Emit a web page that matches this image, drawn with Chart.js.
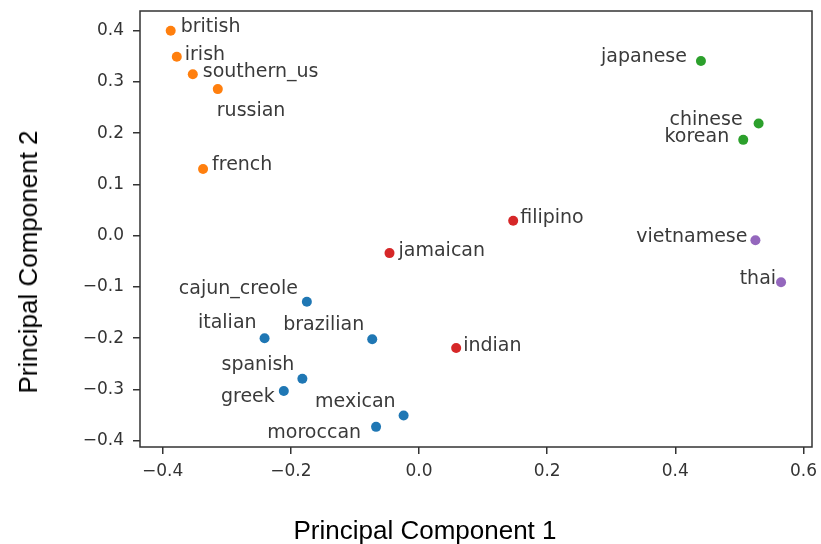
<!DOCTYPE html>
<html>
<head>
<meta charset="utf-8">
<script src="https://cdn.jsdelivr.net/npm/chart.js@4.4.1/dist/chart.umd.min.js"></script>
<style>
  body { margin: 0; background: #fff; }
  #wrap { position: relative; width: 821px; height: 544px; }
  .axis-title { position: absolute; font-family: "Liberation Sans", Arial, sans-serif; font-size: 26px; color: #000; white-space: nowrap; line-height: 1; }
  #xTitle { left: 425px; top: 517px; transform: translateX(-50%); }
  #yTitle { left: 28px; top: 262px; transform: translate(-50%, -50%) rotate(-90deg); }
</style>
</head>
<body>
<div id="wrap">
  <canvas id="chart" width="821" height="544"></canvas>
  <div class="axis-title" id="xTitle">Principal Component 1</div>
  <div class="axis-title" id="yTitle">Principal Component 2</div>
</div>
<script>
// cuisine names, PCA coordinates and cluster id
const cuisines = ["british", "irish", "southern_us", "russian", "french",
  "japanese", "chinese", "korean", "vietnamese", "thai",
  "jamaican", "indian", "filipino",
  "cajun_creole", "italian", "brazilian", "spanish", "greek", "mexican", "moroccan"];
const pc1 = [-0.3875, -0.378, -0.353, -0.314, -0.337,
  0.440, 0.530, 0.506, 0.525, 0.565,
  -0.046, 0.058, 0.147,
  -0.175, -0.241, -0.073, -0.182, -0.211, -0.024, -0.067];
const pc2 = [0.400, 0.349, 0.315, 0.286, 0.130,
  0.341, 0.219, 0.187, -0.009, -0.091,
  -0.034, -0.219, 0.029,
  -0.129, -0.200, -0.202, -0.279, -0.303, -0.351, -0.373];
const cluster = [1, 1, 1, 1, 1, 2, 2, 2, 4, 4, 3, 3, 3, 0, 0, 0, 0, 0, 0, 0];

const xTicks = [-0.4, -0.2, 0.0, 0.2, 0.4, 0.6];
const yTicks = [-0.4, -0.3, -0.2, -0.1, 0.0, 0.1, 0.2, 0.3, 0.4];

const clusterColors = ["#1f77b4", "#ff7f0e", "#2ca02c", "#d62728", "#9467bd"];

// where each name sits next to its dot: [align, dx, dy] in px
const labelPlace = {
  british: ["left", 10, 1], irish: ["left", 8, 3], southern_us: ["left", 10, 3],
  russian: ["left", -1, 27], french: ["left", 9, 1],
  japanese: ["right", -14, 1], chinese: ["right", -16, 2], korean: ["right", -14, 2],
  vietnamese: ["right", -8, 2], thai: ["right", -5, 2],
  jamaican: ["left", 9, 3], indian: ["left", 7, 3], filipino: ["left", 7, 2],
  cajun_creole: ["right", -9, -8], italian: ["right", -8, -10], brazilian: ["right", -8, -9],
  spanish: ["right", -8, -9], greek: ["right", -9, 11], mexican: ["right", -8, -9],
  moroccan: ["right", -15, 11]
};

const datasets = clusterColors.map((c, k) => ({
  label: "cluster " + k,
  data: cuisines.map((name, i) => ({ x: pc1[i], y: pc2[i], name }))
    .filter((p, i) => cluster[i] === k),
  backgroundColor: c,
  borderWidth: 0,
  pointRadius: 5,
  pointHoverRadius: 5
}));

const fmt = v => Math.abs(v) < 1e-9 ? "0.0" : (v < 0 ? "\u2212" : "") + Math.abs(v).toFixed(1);

const frameAndLabels = {
  id: "frameAndLabels",
  afterDatasetsDraw(chart) {
    const ctx = chart.ctx;
    const a = chart.chartArea;
    ctx.save();
    ctx.strokeStyle = "#333";
    ctx.lineWidth = 1.5;
    ctx.strokeRect(a.left, a.top, a.right - a.left, a.bottom - a.top);

    ctx.font = '19px "DejaVu Sans"';
    ctx.fillStyle = "#3a3a3a";
    ctx.textBaseline = "alphabetic";
    chart.data.datasets.forEach((ds, di) => {
      const meta = chart.getDatasetMeta(di);
      meta.data.forEach((el, j) => {
        const name = ds.data[j].name;
        const p = labelPlace[name];
        ctx.textAlign = p[0];
        ctx.fillText(name, el.x + p[1], el.y + p[2]);
      });
    });
    ctx.restore();
  }
};

new Chart(document.getElementById("chart"), {
  type: "scatter",
  data: { datasets },
  options: {
    responsive: false,
    devicePixelRatio: 1,
    animation: false,
    events: [],
    layout: { autoPadding: false, padding: { left: 0, right: 9, top: 11, bottom: 57 } },
    plugins: { legend: { display: false }, tooltip: { enabled: false } },
    scales: {
      x: {
        type: "linear",
        min: -0.4354,
        max: 0.6133,
        afterBuildTicks: s => { s.ticks = xTicks.map(v => ({ value: v })); },
        afterFit: s => { s.height = 40; s.paddingLeft = 0; s.paddingRight = 0; },
        border: { display: false },
        grid: { drawOnChartArea: false, drawTicks: true, tickLength: 7, color: "#333", lineWidth: 1.5 },
        ticks: {
          callback: fmt,
          color: "#333",
          padding: 7,
          maxRotation: 0,
          font: { family: "DejaVu Sans", size: 17 }
        }
      },
      y: {
        type: "linear",
        min: -0.4123,
        max: 0.4384,
        afterBuildTicks: s => { s.ticks = yTicks.map(v => ({ value: v })); },
        afterFit: s => { s.width = 140; s.paddingTop = 0; s.paddingBottom = 0; },
        border: { display: false },
        grid: { drawOnChartArea: false, drawTicks: true, tickLength: 7, color: "#333", lineWidth: 1.5 },
        ticks: {
          callback: fmt,
          color: "#333",
          padding: 9,
          font: { family: "DejaVu Sans", size: 17 }
        }
      }
    }
  },
  plugins: [frameAndLabels]
});
</script>
</body>
</html>
